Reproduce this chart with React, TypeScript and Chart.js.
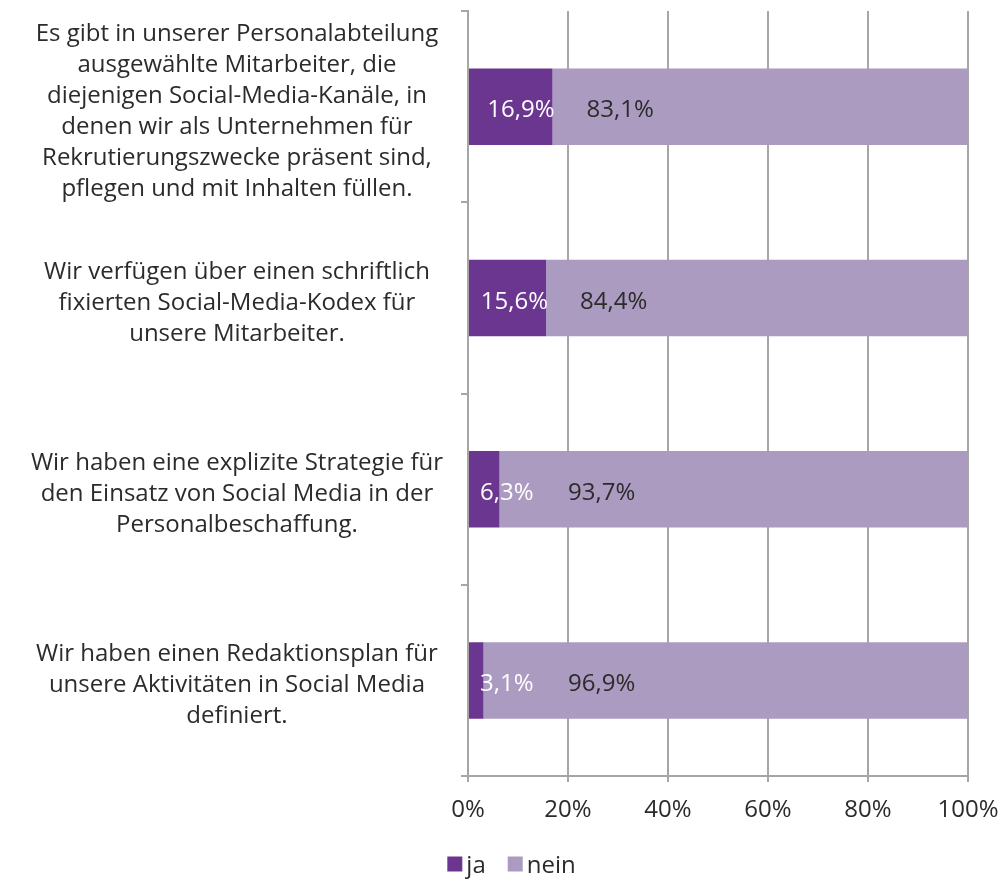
import React, { useEffect, useRef } from "react";
import { Chart, registerables } from "chart.js";

Chart.register(...registerables);

const categories: string[][] = [
  [
    "Es gibt in unserer Personalabteilung",
    "ausgewählte Mitarbeiter, die",
    "diejenigen Social-Media-Kanäle, in",
    "denen wir als Unternehmen für",
    "Rekrutierungszwecke präsent sind,",
    "pflegen und mit Inhalten füllen.",
  ],
  ["Wir verfügen über einen schriftlich", "fixierten Social-Media-Kodex für", "unsere Mitarbeiter."],
  ["Wir haben eine explizite Strategie für", "den Einsatz von Social Media in der", "Personalbeschaffung."],
  ["Wir haben einen Redaktionsplan für", "unsere Aktivitäten in Social Media", "definiert."],
];

const jaValues = [16.9, 15.6, 6.3, 3.1];
const neinValues = [83.1, 84.4, 93.7, 96.9];
const seriesNames = ["ja", "nein"];
const seriesColors = ["#6b368f", "#ab9bc0"];
const xTicks = [0, 20, 40, 60, 80, 100];

const FONT = "'Open Sans', Lato, sans-serif";
const TEXT = "#2b2b2b";
const GRID = "#a6a6a6";
const FS = 24;

const fmt = (v: number) => v.toFixed(1).replace(".", ",") + "%";

const labelPlugin = {
  id: "barLabels",
  afterDatasetsDraw(chart: any) {
    const ctx = chart.ctx;
    const x0 = chart.scales.x.getPixelForValue(0);
    ctx.save();
    ctx.font = `${FS}px ${FONT}`;
    ctx.textBaseline = "middle";
    const ja = chart.getDatasetMeta(0).data;
    ja.forEach((el: any, i: number) => {
      const t1 = fmt(jaValues[i]);
      const w1 = ctx.measureText(t1).width;
      const right1 = Math.max(el.x + 2, x0 + w1 + 12);
      ctx.fillStyle = "#ffffff";
      ctx.textAlign = "right";
      ctx.fillText(t1, right1, el.y + 4);
      const t2 = fmt(neinValues[i]);
      const left2 = Math.max(right1 + 32, x0 + 100);
      ctx.fillStyle = TEXT;
      ctx.textAlign = "left";
      ctx.fillText(t2, left2, el.y + 4);
    });
    ctx.restore();
  },
};

const yLabelShift = {
  id: "yLabelShift",
  beforeDraw(chart: any) {
    const items = chart.scales.y.getLabelItems();
    items.forEach((it: any) => {
      if (!it._shifted) {
        it.options.translation[1] += 5;
        it._shifted = true;
      }
    });
  },
};

const customLegend = {
  id: "customLegend",
  afterDraw(chart: any) {
    const ctx = chart.ctx;
    ctx.save();
    ctx.font = `${FS}px ${FONT}`;
    ctx.textBaseline = "middle";
    ctx.textAlign = "left";
    const box = 15;
    const gapText = 4;
    const gapItem = 22;
    const widths = seriesNames.map((n) => box + gapText + ctx.measureText(n).width);
    const total = widths.reduce((a, b) => a + b, 0) + gapItem * (seriesNames.length - 1);
    let x = chart.width / 2 + 9 - total / 2;
    const cy = chart.height - 16;
    seriesNames.forEach((n, i) => {
      ctx.fillStyle = seriesColors[i];
      ctx.fillRect(x, cy - box / 2, box, box);
      ctx.fillStyle = TEXT;
      ctx.fillText(n, x + box + gapText, cy + 2);
      x += widths[i] + gapItem;
    });
    ctx.restore();
  },
};

export default function App() {
  const ref = useRef<HTMLCanvasElement>(null);
  useEffect(() => {
    document.body.style.margin = "0";
    const chart = new Chart(ref.current!, {
      type: "bar",
      data: {
        labels: categories,
        datasets: seriesNames.map((name, i) => ({
          label: name,
          data: i === 0 ? jaValues : neinValues,
          backgroundColor: seriesColors[i],
          barPercentage: 0.4,
          categoryPercentage: 1,
        })),
      },
      options: {
        indexAxis: "y",
        responsive: false,
        animation: false,
        layout: { padding: { left: 0, right: 37, top: 11, bottom: 38 } },
        scales: {
          x: {
            stacked: true,
            min: 0,
            max: 100,
            afterBuildTicks: (s: any) => {
              s.ticks = xTicks.map((v) => ({ value: v }));
            },
            ticks: {
              callback: (v: any) => v + "%",
              color: TEXT,
              font: { family: FONT, size: FS },
              padding: 14,
            },
            grid: { color: GRID, lineWidth: 2, tickLength: 6 },
            border: { color: GRID, width: 2 },
            afterFit: (s: any) => {
              s.height = 66;
              s.paddingRight = 0;
            },
          },
          y: {
            stacked: true,
            ticks: {
              color: TEXT,
              font: { family: FONT, size: FS, lineHeight: 31 / FS },
              crossAlign: "center",
              padding: 18,
            },
            grid: { color: GRID, lineWidth: 2, tickLength: 7, drawOnChartArea: false },
            border: { color: GRID, width: 2 },
            afterFit: (s: any) => {
              s.width = 468;
              s.paddingTop = 0;
              s.paddingBottom = 0;
            },
          },
        },
        plugins: {
          legend: { display: false },
          tooltip: { enabled: false },
        },
      },
      plugins: [labelPlugin, yLabelShift, customLegend],
    });
    return () => chart.destroy();
  }, []);
  return (
    <div style={{ width: 1005, height: 880 }}>
      <canvas ref={ref} width={1005} height={880} />
    </div>
  );
}
